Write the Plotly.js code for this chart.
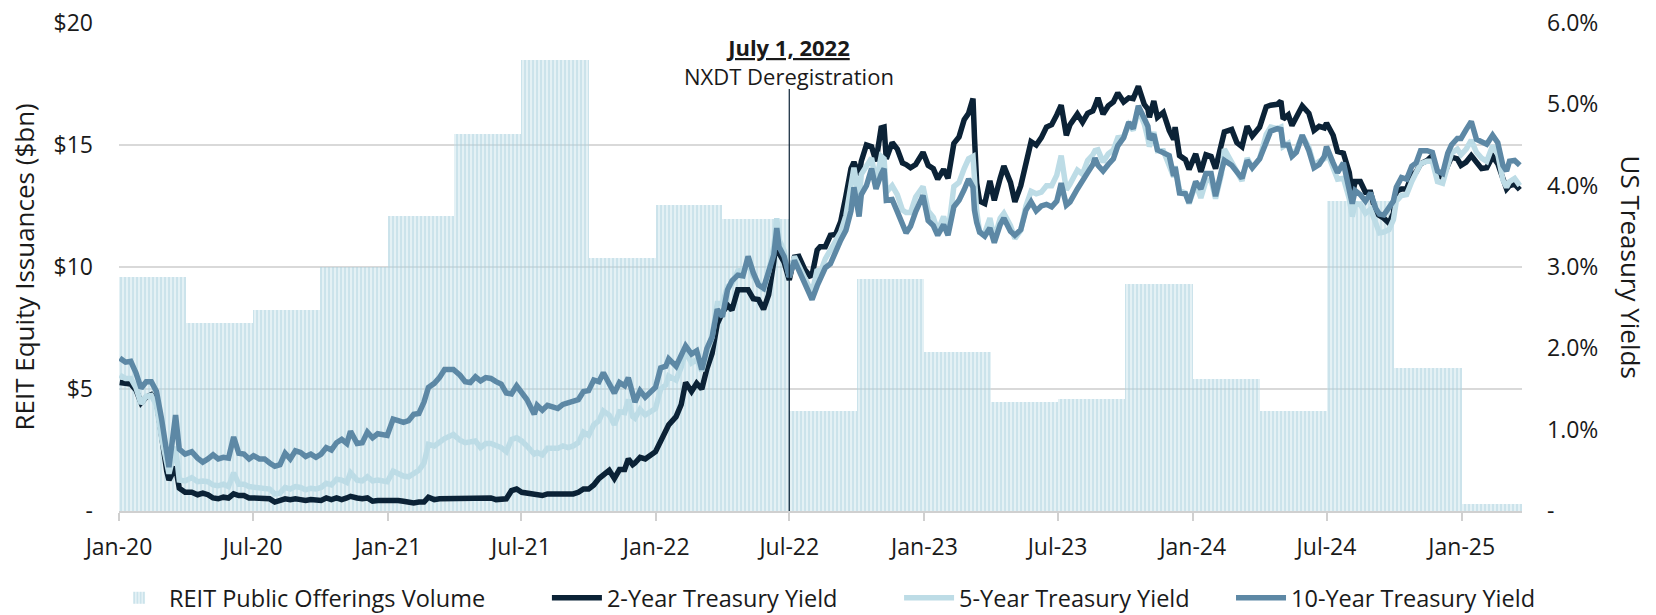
<!DOCTYPE html>
<html>
<head>
<meta charset="utf-8">
<script src="https://cdn.plot.ly/plotly-3.0.1.min.js"></script>
<style>html,body{margin:0;padding:0;background:#fff;}#chart{width:1656px;height:615px;}</style>
</head>
<body>
<div id="chart"></div>
<script>
// Quarterly REIT public offerings volume ($bn)
const quarterStarts = ['2020-01-01','2020-04-01','2020-07-01','2020-10-01','2021-01-01','2021-04-01','2021-07-01','2021-10-01','2022-01-01','2022-04-01','2022-07-01','2022-10-01','2023-01-01','2023-04-01','2023-07-01','2023-10-01','2024-01-01','2024-04-01','2024-07-01','2024-10-01','2025-01-01'];
const offeringsVolume = [9.6, 7.7, 8.25, 10.0, 12.1, 15.45, 18.5, 10.35, 12.55, 11.95, 4.1, 9.5, 6.5, 4.45, 4.6, 9.3, 5.4, 4.1, 12.7, 5.85, 0.3];

// Treasury yields (%)
const dates = [
'2020-01-02','2020-01-10','2020-01-17','2020-01-24','2020-01-31','2020-02-07','2020-02-14','2020-02-21','2020-02-28','2020-03-06','2020-03-09','2020-03-18','2020-03-23','2020-03-31','2020-04-09','2020-04-17','2020-04-24','2020-05-01','2020-05-08','2020-05-15','2020-05-22','2020-05-29','2020-06-05','2020-06-12','2020-06-19','2020-06-26','2020-07-02','2020-07-10','2020-07-17','2020-07-24','2020-07-31','2020-08-07','2020-08-14','2020-08-21','2020-08-28','2020-09-04','2020-09-11','2020-09-18','2020-09-25','2020-10-02','2020-10-09','2020-10-16','2020-10-23','2020-10-30','2020-11-06','2020-11-11','2020-11-20','2020-11-27','2020-12-04','2020-12-11','2020-12-18','2020-12-31',
'2021-01-08','2021-01-15','2021-01-22','2021-01-29','2021-02-05','2021-02-12','2021-02-19','2021-02-25','2021-03-05','2021-03-12','2021-03-19','2021-03-31','2021-04-09','2021-04-16','2021-04-23','2021-04-30','2021-05-07','2021-05-14','2021-05-21','2021-05-28','2021-06-04','2021-06-11','2021-06-18','2021-06-25','2021-07-02','2021-07-09','2021-07-19','2021-07-23','2021-07-30','2021-08-06','2021-08-13','2021-08-20','2021-08-27','2021-09-03','2021-09-10','2021-09-17','2021-09-24','2021-10-01','2021-10-08','2021-10-15','2021-10-21','2021-10-29','2021-11-05','2021-11-12','2021-11-19','2021-11-24','2021-11-30','2021-12-03','2021-12-10','2021-12-17','2021-12-31',
'2022-01-07','2022-01-14','2022-01-18','2022-01-28','2022-02-04','2022-02-10','2022-02-18','2022-02-25','2022-03-04','2022-03-11','2022-03-18','2022-03-25','2022-04-01','2022-04-08','2022-04-14','2022-04-22','2022-04-29','2022-05-06','2022-05-13','2022-05-20','2022-05-27','2022-06-03','2022-06-10','2022-06-14','2022-06-17','2022-06-24','2022-07-01','2022-07-08','2022-07-14','2022-07-22','2022-07-29','2022-08-01','2022-08-08','2022-08-12','2022-08-19','2022-08-26','2022-09-02','2022-09-09','2022-09-16','2022-09-23','2022-09-27','2022-09-30','2022-10-04','2022-10-07','2022-10-14','2022-10-21','2022-10-27','2022-11-03','2022-11-07','2022-11-10','2022-11-18','2022-11-25','2022-12-02','2022-12-07','2022-12-13','2022-12-20','2022-12-30',
'2023-01-06','2023-01-13','2023-01-19','2023-01-27','2023-02-02','2023-02-10','2023-02-17','2023-02-24','2023-03-02','2023-03-08','2023-03-10','2023-03-13','2023-03-17','2023-03-24','2023-03-31','2023-04-06','2023-04-14','2023-04-19','2023-04-28','2023-05-04','2023-05-12','2023-05-19','2023-05-26','2023-06-02','2023-06-09','2023-06-16','2023-06-23','2023-06-30','2023-07-06','2023-07-13','2023-07-18','2023-07-28','2023-08-04','2023-08-11','2023-08-18','2023-08-21','2023-08-25','2023-09-01','2023-09-08','2023-09-15','2023-09-21','2023-09-29','2023-10-06','2023-10-12','2023-10-19','2023-10-27','2023-11-01','2023-11-03','2023-11-09','2023-11-14','2023-11-22','2023-11-30','2023-12-06','2023-12-08','2023-12-14','2023-12-22','2023-12-27',
'2024-01-05','2024-01-12','2024-01-19','2024-01-26','2024-02-01','2024-02-09','2024-02-13','2024-02-23','2024-03-01','2024-03-08','2024-03-15','2024-03-22','2024-04-01','2024-04-10','2024-04-16','2024-04-25','2024-04-30','2024-05-03','2024-05-10','2024-05-15','2024-05-21','2024-05-29','2024-06-07','2024-06-14','2024-06-21','2024-06-28','2024-07-01','2024-07-10','2024-07-16','2024-07-24','2024-08-01','2024-08-05','2024-08-09','2024-08-16','2024-08-23','2024-08-30','2024-09-06','2024-09-11','2024-09-17','2024-09-24','2024-09-30','2024-10-04','2024-10-11','2024-10-18','2024-10-25','2024-10-31','2024-11-06','2024-11-15','2024-11-22','2024-11-29','2024-12-06','2024-12-13','2024-12-18','2024-12-26','2024-12-31',
'2025-01-07','2025-01-14','2025-01-21','2025-01-28','2025-02-04','2025-02-12','2025-02-19','2025-02-26','2025-03-03','2025-03-07','2025-03-14','2025-03-21'
];
const yield2 = [
1.58,1.57,1.56,1.49,1.33,1.40,1.43,1.35,0.86,0.49,0.38,0.54,0.28,0.23,0.23,0.20,0.22,0.20,0.16,0.15,0.17,0.16,0.21,0.19,0.19,0.16,0.16,0.16,0.15,0.15,0.11,0.13,0.15,0.14,0.15,0.14,0.13,0.14,0.13,0.13,0.16,0.14,0.16,0.14,0.16,0.18,0.16,0.15,0.16,0.12,0.13,0.13,
0.14,0.13,0.12,0.11,0.10,0.11,0.11,0.17,0.14,0.15,0.15,0.16,0.16,0.16,0.16,0.16,0.15,0.15,0.16,0.14,0.14,0.15,0.25,0.27,0.23,0.22,0.19,0.20,0.19,0.21,0.21,0.22,0.22,0.21,0.21,0.23,0.27,0.27,0.32,0.40,0.45,0.50,0.40,0.51,0.51,0.64,0.57,0.59,0.66,0.64,0.73,
0.87,0.97,1.06,1.16,1.31,1.58,1.47,1.57,1.50,1.75,1.94,2.30,2.44,2.53,2.47,2.72,2.72,2.72,2.61,2.60,2.48,2.66,3.07,3.43,3.17,3.06,2.84,3.12,3.13,2.97,2.89,2.90,3.21,3.25,3.25,3.39,3.40,3.56,3.87,4.21,4.29,4.22,4.13,4.30,4.50,4.48,4.30,4.71,4.72,4.33,4.53,4.45,4.28,4.26,4.22,4.26,4.41,
4.25,4.21,4.08,4.20,4.09,4.52,4.60,4.81,4.89,5.07,4.60,4.03,3.81,3.78,4.06,3.82,4.09,4.24,4.04,3.80,4.00,4.28,4.54,4.50,4.59,4.72,4.75,4.87,4.99,4.62,4.75,4.88,4.78,4.89,4.92,4.98,5.08,4.88,4.98,5.03,5.14,5.03,5.08,5.07,5.22,5.00,4.94,4.84,5.04,4.84,4.90,4.68,4.57,4.72,4.37,4.32,4.20,
4.39,4.17,4.38,4.36,4.21,4.48,4.66,4.69,4.53,4.48,4.73,4.61,4.72,4.97,4.99,5.00,5.04,4.82,4.87,4.74,4.83,4.98,4.89,4.68,4.73,4.71,4.77,4.62,4.42,4.40,4.16,3.89,4.05,4.05,3.92,3.92,3.66,3.64,3.60,3.54,3.66,3.93,3.96,3.96,4.13,4.17,4.27,4.31,4.37,4.13,4.10,4.25,4.35,4.33,4.25,
4.29,4.37,4.29,4.21,4.22,4.36,4.27,4.06,3.96,4.00,4.02,3.95
];
const yield5 = [
1.67,1.63,1.63,1.52,1.32,1.41,1.42,1.30,0.89,0.58,0.46,0.79,0.38,0.37,0.41,0.36,0.37,0.36,0.32,0.31,0.33,0.30,0.47,0.33,0.33,0.30,0.29,0.29,0.28,0.27,0.21,0.22,0.29,0.27,0.30,0.29,0.26,0.28,0.27,0.29,0.34,0.32,0.39,0.38,0.35,0.47,0.38,0.37,0.42,0.37,0.38,0.36,
0.49,0.46,0.43,0.42,0.46,0.50,0.59,0.82,0.80,0.85,0.89,0.94,0.87,0.84,0.85,0.86,0.78,0.83,0.83,0.80,0.78,0.73,0.88,0.90,0.86,0.80,0.70,0.72,0.69,0.77,0.77,0.77,0.80,0.78,0.80,0.84,0.97,0.93,1.06,1.11,1.23,1.18,1.06,1.22,1.21,1.37,1.16,1.14,1.25,1.18,1.26,
1.50,1.55,1.66,1.61,1.77,1.96,1.82,1.86,1.72,1.95,2.14,2.55,2.55,2.76,2.79,2.95,2.96,3.04,2.88,2.81,2.71,2.94,3.25,3.60,3.34,3.20,2.88,3.13,3.01,2.87,2.70,2.68,2.97,2.93,3.10,3.21,3.30,3.43,3.63,3.98,4.22,4.06,3.80,4.14,4.25,4.34,4.04,4.36,4.33,3.92,4.00,3.89,3.70,3.67,3.67,3.86,3.99,
3.69,3.61,3.44,3.62,3.42,3.99,4.04,4.21,4.33,4.36,3.96,3.69,3.43,3.42,3.60,3.35,3.60,3.66,3.51,3.35,3.45,3.75,3.93,3.90,3.92,4.00,4.00,4.13,4.37,3.95,4.02,4.19,4.14,4.31,4.38,4.43,4.44,4.29,4.39,4.44,4.59,4.60,4.75,4.68,4.93,4.76,4.58,4.48,4.66,4.43,4.43,4.27,4.11,4.24,3.94,3.91,3.78,
4.02,3.85,4.06,4.07,3.84,4.14,4.45,4.28,4.19,4.06,4.34,4.22,4.33,4.63,4.72,4.70,4.72,4.48,4.52,4.36,4.44,4.62,4.47,4.25,4.30,4.33,4.43,4.23,4.08,4.09,3.84,3.62,3.78,3.77,3.66,3.71,3.51,3.42,3.43,3.46,3.58,3.81,3.88,3.89,4.05,4.15,4.27,4.30,4.30,4.05,4.03,4.25,4.40,4.45,4.38,
4.45,4.56,4.41,4.34,4.30,4.49,4.39,4.07,3.98,4.05,4.09,4.00
];
const yield10 = [
1.88,1.83,1.84,1.70,1.51,1.59,1.59,1.47,1.13,0.74,0.54,1.18,0.76,0.70,0.73,0.65,0.60,0.64,0.69,0.64,0.66,0.65,0.91,0.71,0.70,0.64,0.68,0.64,0.64,0.59,0.55,0.57,0.71,0.64,0.74,0.72,0.67,0.70,0.66,0.70,0.78,0.75,0.84,0.88,0.83,0.98,0.83,0.84,0.97,0.90,0.95,0.93,
1.13,1.11,1.09,1.11,1.19,1.20,1.34,1.52,1.57,1.64,1.74,1.74,1.67,1.59,1.58,1.65,1.60,1.64,1.63,1.59,1.56,1.45,1.44,1.54,1.44,1.37,1.19,1.30,1.24,1.30,1.28,1.26,1.31,1.33,1.34,1.37,1.47,1.48,1.61,1.59,1.70,1.55,1.45,1.58,1.54,1.64,1.45,1.34,1.48,1.40,1.52,
1.76,1.78,1.87,1.78,1.93,2.03,1.93,1.97,1.74,2.00,2.14,2.48,2.39,2.72,2.83,2.90,2.89,3.13,2.93,2.78,2.74,2.96,3.15,3.48,3.25,3.13,2.88,3.08,2.96,2.77,2.67,2.60,2.77,2.85,2.99,3.04,3.20,3.33,3.45,3.69,3.98,3.83,3.62,3.89,4.00,4.21,3.96,4.14,4.21,3.82,3.83,3.68,3.51,3.42,3.50,3.68,3.88,
3.57,3.51,3.39,3.52,3.39,3.74,3.82,3.95,4.08,3.98,3.70,3.55,3.43,3.38,3.48,3.30,3.52,3.60,3.44,3.39,3.46,3.70,3.80,3.69,3.75,3.77,3.74,3.81,4.03,3.76,3.80,3.96,4.05,4.16,4.26,4.34,4.25,4.18,4.26,4.33,4.49,4.59,4.78,4.70,4.98,4.84,4.73,4.57,4.63,4.44,4.41,4.37,4.12,4.23,3.91,3.90,3.79,
4.05,3.96,4.15,4.15,3.87,4.18,4.31,4.25,4.18,4.09,4.31,4.22,4.33,4.55,4.67,4.70,4.69,4.50,4.50,4.36,4.41,4.62,4.43,4.22,4.26,4.36,4.48,4.28,4.16,4.28,3.99,3.78,3.94,3.89,3.81,3.91,3.72,3.65,3.64,3.74,3.81,3.98,4.10,4.08,4.24,4.28,4.43,4.43,4.41,4.18,4.15,4.40,4.50,4.58,4.58,
4.69,4.79,4.57,4.54,4.51,4.62,4.53,4.25,4.18,4.30,4.31,4.25
];

const leftTicks = [0, 5, 10, 15, 20];
const leftTickText = ['-', '$5', '$10', '$15', '$20'];
const rightTicks = [0, 1, 2, 3, 4, 5, 6];
const rightTickText = ['-', '1.0%', '2.0%', '3.0%', '4.0%', '5.0%', '6.0%'];

const eventDate = '2022-07-01';
const xEnd = '2025-03-24';

// bar widths = quarter duration (ms)
const barWidths = quarterStarts.map((d) => {
  const s = new Date(d + 'T00:00:00Z');
  const e = new Date(s); e.setUTCMonth(e.getUTCMonth() + 3);
  return e - s;
});

const n = Math.min(dates.length, yield2.length, yield5.length, yield10.length);
const FONT = 'Open Sans, Noto Sans, sans-serif';
const TXT = '#1a1a1a';
const TICK = 23;

const traces = [
  {
    type: 'bar', name: 'REIT Public Offerings Volume', legend: 'legend',
    x: quarterStarts, y: offeringsVolume, width: barWidths, offset: 0,
    xaxis: 'x', yaxis: 'y',
    marker: {
      color: 'rgba(188,220,230,0.55)',
      line: {width: 0},
      pattern: {shape: '|', fgcolor: 'rgba(165,205,218,0.55)', bgcolor: 'rgba(196,225,234,0.45)', size: 4, solidity: 0.35}
    },
    hoverinfo: 'skip'
  },
  {type: 'scatter', mode: 'lines', name: '2-Year Treasury Yield', legend: 'legend2', x: dates.slice(0, n), y: yield2.slice(0, n), yaxis: 'y2', line: {color: '#0b2236', width: 5.5}},
  {type: 'scatter', mode: 'lines', name: '5-Year Treasury Yield', legend: 'legend3', x: dates.slice(0, n), y: yield5.slice(0, n), yaxis: 'y2', line: {color: '#bddce6', width: 5.5}},
  {type: 'scatter', mode: 'lines', name: '10-Year Treasury Yield', legend: 'legend4', x: dates.slice(0, n), y: yield10.slice(0, n), yaxis: 'y2', line: {color: '#5d88a5', width: 5.5}}
];

function legendAt(xPaper) {
  return {
    orientation: 'h', x: xPaper, xanchor: 'left', y: -0.1332, yanchor: 'top',
    font: {family: FONT, size: 23.5, color: TXT}, itemwidth: 50, bgcolor: 'rgba(0,0,0,0)', borderwidth: 0
  };
}

const layout = {
  width: 1656, height: 615,
  margin: {l: 119, r: 134, t: 23, b: 104, pad: 0, autoexpand: false},
  paper_bgcolor: '#ffffff', plot_bgcolor: '#ffffff',
  font: {family: FONT, size: TICK, color: TXT},
  bargap: 0,
  showlegend: true,
  legend: legendAt(-0.0071),
  legend2: legendAt(0.305),
  legend3: legendAt(0.556),
  legend4: legendAt(0.7926),
  xaxis: {
    type: 'date', range: ['2020-01-01', xEnd],
    tickformat: '%b-%y', dtick: 'M6', tick0: '2020-01-01',
    ticks: 'outside', ticklen: 8, tickwidth: 2, tickcolor: '#d0d0d0',
    showline: true, linecolor: '#d0d0d0', linewidth: 2,
    showgrid: false, zeroline: false, ticklabelstandoff: 6,
    tickfont: {family: FONT, size: TICK, color: TXT}
  },
  yaxis: {
    range: [0, 20], tickmode: 'array', tickvals: leftTicks, ticktext: leftTickText,
    showgrid: true, gridcolor: '#d9d9d9', gridwidth: 2, zeroline: false,
    ticks: '', ticklabelstandoff: 25, tickfont: {family: FONT, size: TICK, color: TXT}
  },
  yaxis2: {
    range: [0, 6], overlaying: 'y', side: 'right', tickmode: 'array', tickvals: rightTicks, ticktext: rightTickText,
    showgrid: false, zeroline: false, ticks: '', ticklabelstandoff: 24,
    tickfont: {family: FONT, size: TICK, color: TXT}
  },
  shapes: [
    {type: 'line', xref: 'x', yref: 'paper', x0: eventDate, x1: eventDate, y0: 0, y1: 0.865, line: {color: '#0b2236', width: 1.2}, layer: 'above'}
  ],
  annotations: [
    {xref: 'x', yref: 'paper', x: eventDate, y: 0.922, yanchor: 'middle', xanchor: 'center', showarrow: false,
     text: '<b><u>July 1, 2022</u></b><br>NXDT Deregistration', font: {family: FONT, size: 22, color: TXT}, align: 'center'},
    {xref: 'paper', yref: 'paper', x: -0.068, y: 0.5, xanchor: 'center', yanchor: 'middle', showarrow: false, textangle: -90,
     text: 'REIT Equity Issuances ($bn)', font: {family: FONT, size: 26, color: TXT}},
    {xref: 'paper', yref: 'paper', x: 1.078, y: 0.5, xanchor: 'center', yanchor: 'middle', showarrow: false, textangle: 90,
     text: 'US Treasury Yields', font: {family: FONT, size: 26, color: TXT}}
  ]
};

Plotly.newPlot('chart', traces, layout, {displayModeBar: false, staticPlot: true});
</script>
</body>
</html>
